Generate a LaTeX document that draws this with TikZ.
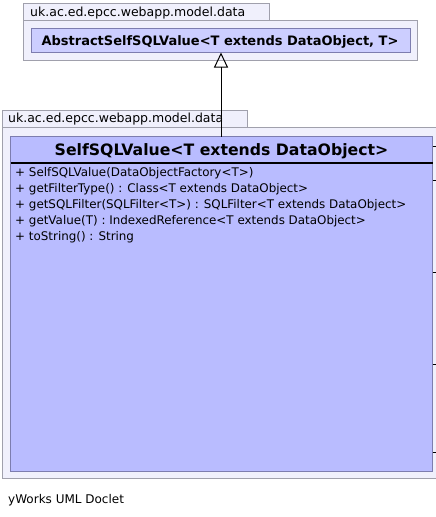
\documentclass[tikz,border=0pt]{standalone}
\usepackage{fontspec}
\setmainfont{DejaVu Sans}
\usetikzlibrary{arrows.meta}
\definecolor{pkgfill}{RGB}{240,240,252}
\definecolor{pkgdraw}{RGB}{160,160,172}
\definecolor{clsfill}{RGB}{185,188,255}
\definecolor{clsfilltop}{RGB}{204,206,255}
\definecolor{clsdraw}{RGB}{125,125,175}
\begin{document}
\begin{tikzpicture}[x=1pt,y=-1pt,
  pkg/.style={draw=pkgdraw, fill=pkgfill, line width=1pt, inner sep=0pt, outer sep=0pt, anchor=north west},
  cls/.style={draw=clsdraw, fill=clsfill, line width=1pt, inner sep=0pt, outer sep=0pt, anchor=north west},
  pkglabel/.style={anchor=base west, inner sep=0pt, font=\fontsize{12.5}{14}\selectfont},
  member/.style={anchor=base west, inner sep=0pt, font=\fontsize{11.9}{13}\selectfont},
  conn/.style={draw=black, line width=1pt}
]
\useasboundingbox (0,0) rectangle (436,517);
\clip (0,0) rectangle (436,517);
% top package
\node[pkg, minimum width=246pt, minimum height=17pt] (p1tab) at (23.5,3.5) {};
\node[pkg, minimum width=394pt, minimum height=40pt] (p1body) at (23.5,20.5) {};
\node[pkglabel] (p1lbl) at (30,16.5) {uk.ac.ed.epcc.webapp.model.data};
\node[cls, fill=clsfilltop, minimum width=379pt, minimum height=24pt] (super) at (31.5,28.5) {};
\node[anchor=base, inner sep=0pt, font=\fontsize{13}{15}\bfseries\selectfont] (superlbl) at (220,45) {AbstractSelfSQLValue<T extends DataObject, T>};
% bottom package
\node[pkg, minimum width=440pt, minimum height=351pt] (p2body) at (2.5,127.5) {};
\node[pkg, minimum width=245pt, minimum height=17pt] (p2tab) at (2.5,110.5) {};
\node[pkglabel] (p2lbl) at (8,122) {uk.ac.ed.epcc.webapp.model.data};
\node[cls, minimum width=422pt, minimum height=335pt] (sub) at (10.5,136.5) {};
\node[anchor=base, inner sep=0pt, font=\fontsize{15.7}{18}\bfseries\selectfont] (sublbl) at (221.5,155) {SelfSQLValue<T extends DataObject>};
\coordinate (sepy) at (0,162.5);
\draw[line width=2pt] (sub.west |- sepy) -- (sub.east |- sepy);
\node[member] (m1) at (15,176) {+\ SelfSQLValue(DataObjectFactory<T>)};
\node[member] (m2) at (15,192) {+\ getFilterType() : Class<T extends DataObject>};
\node[member] (m3) at (15,208) {+\ getSQLFilter(SQLFilter<T>) : SQLFilter<T extends DataObject>};
\node[member] (m4) at (15,224) {+\ getValue(T) : IndexedReference<T extends DataObject>};
\node[member] (m5) at (15,240) {+\ toString() : String};
% generalization
\draw[conn, -{Triangle[open, length=15pt, width=14pt, line width=1pt]}] (sub.north -| super.south) -- (super.south);
% connectors leaving to the right
\foreach \i/\yy in {1/146.5, 2/180, 3/272, 4/364, 5/452} {
  \coordinate (r\i) at (440,\yy);
  \draw[conn] (sub.east |- r\i) -- (r\i);
}
\node[anchor=base west, inner sep=0pt, font=\fontsize{12}{14}\selectfont] (footer) at (8,503.5) {yWorks UML Doclet};
\end{tikzpicture}
\end{document}
